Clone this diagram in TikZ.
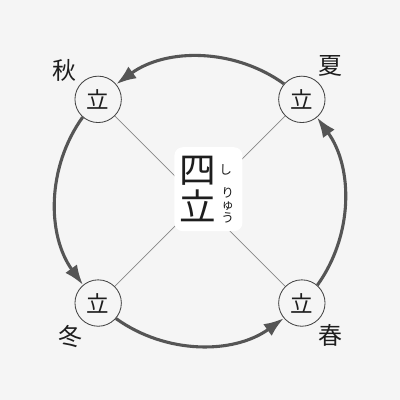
\documentclass[tikz,border=0pt]{standalone}
\usepackage{fontspec}
\usepackage{tikz}
\usetikzlibrary{arrows.meta, positioning}
\newfontfamily\cjk{Noto Sans CJK JP}
\definecolor{paperbg}{RGB}{245, 245, 245}
\definecolor{arcgray}{RGB}{85, 85, 85}
\definecolor{ringgray}{RGB}{68, 68, 68}
\definecolor{spokegray}{RGB}{135, 135, 135}
\definecolor{inkblack}{RGB}{30, 30, 30}

\begin{document}
\begin{tikzpicture}[
    season/.style={circle, draw=ringgray, line width=0.6pt, fill=paperbg, minimum size=1.16cm, inner sep=0pt, text=inkblack, font=\cjk\fontsize{16}{16}\selectfont},
    seasonlabel/.style={text=inkblack, font=\cjk\fontsize{17}{17}\selectfont},
    seasonarc/.style={line width=2.2pt, arcgray, -{Latex[length=5mm, width=3.6mm]}, looseness=0.94},
    ruby/.style={text=inkblack, font=\cjk\fontsize{9}{8.8}\selectfont, align=center, inner sep=0pt}
]
    \fill[paperbg] (-5,-4.97) rectangle (5,5.03);
    \useasboundingbox (-5,-4.97) rectangle (5,5.03);

    % the four risshi nodes
    \node[season] (lichun) at (2.546,-2.546) {立};
    \node[season] (lixia) at (2.546,2.546) {立};
    \node[season] (liqiu) at (-2.546,2.546) {立};
    \node[season] (lidong) at (-2.546,-2.546) {立};

    \node[seasonlabel] (chun) at (3.25,-3.36) {春};
    \node[seasonlabel] (xia) at (3.26,3.38) {夏};
    \node[seasonlabel] (qiu) at (-3.4,3.28) {秋};
    \node[seasonlabel] (dong) at (-3.25,-3.39) {冬};

    \draw[spokegray, line width=0.5pt] (liqiu) -- (lichun);
    \draw[spokegray, line width=0.5pt] (lixia) -- (lidong);

    % center title
    \node[fill=white, rounded corners=6pt, minimum width=1.7cm, minimum height=2.1cm] (titlebox) at (0.21,0.3) {};
    \node[text=inkblack, font=\cjk\fontsize{26}{26}\selectfont, align=center, inner sep=0pt] (title) at (-0.05,0.3) {四\\立};
    \node[ruby] (rubyshi) at (0.64,0.78) {し};
    \node[ruby] (rubyryu) at (0.69,-0.1) {り\\ゅ\\う};

    \draw[seasonarc] (lichun.49.6) to[bend right=35.8] (lixia.310.4);
    \draw[seasonarc] (lixia.139.6) to[bend right=35.8] (liqiu.40.4);
    \draw[seasonarc] (liqiu.229.6) to[bend right=35.8] (lidong.130.4);
    \draw[seasonarc] (lidong.319.6) to[bend right=35.8] (lichun.220.4);
\end{tikzpicture}
\end{document}
